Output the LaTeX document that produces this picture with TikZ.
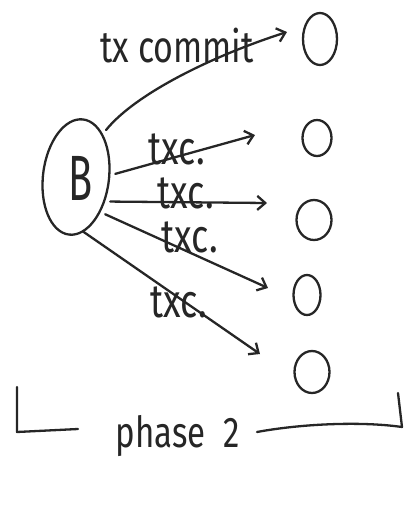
\documentclass[tikz,border=0pt]{standalone}
\usepackage{fontspec}
\setmainfont{Fira Sans}
\usetikzlibrary{shapes.geometric,arrows.meta}
\definecolor{ink}{HTML}{262626}
\begin{document}
\begin{tikzpicture}[x=1pt,y=-1pt,
  pen/.style={draw=ink,line width=2.3pt,line cap=round,line join=round},
  msg/.style={pen,-{Straight Barb[length=8pt,width=14pt,line width=2.3pt]},shorten <=5pt},
  peer/.style={ellipse,pen,inner sep=0pt},
  hand/.style={text=ink,inner sep=0pt,anchor=base,yscale=1.3,font=\fontsize{34}{36}\selectfont}]
\useasboundingbox (0,0) rectangle (409,507);

% coordinator
\node[ellipse,pen,minimum width=66pt,minimum height=116pt,rotate=-7] (B) at (76,177) {};
\node[hand,yscale=1/1.3,font=\fontsize{64}{64}\selectfont,xscale=0.62] (Bname) at (81,200) {B};

% participants
\node[peer,minimum width=34pt,minimum height=52pt] (p1) at (320,39) {};
\node[peer,minimum width=29pt,minimum height=36pt] (p2) at (317,138) {};
\node[peer,minimum width=35pt,minimum height=40pt] (p3) at (314,220) {};
\node[peer,minimum width=27pt,minimum height=40pt] (p4) at (307,295) {};
\node[peer,minimum width=35pt,minimum height=42pt] (p5) at (312,372) {};

% arrow tips
\coordinate (t1) at (287,32);
\coordinate (t2) at (255,135);
\coordinate (t3) at (267,203);
\coordinate (t4) at (268,288);
\coordinate (t5) at (260,354);

% messages
\draw[msg] (B.65) .. controls (135,94) and (212,56) .. (t1);
\draw[msg] (B.10) -- (t2);
\draw[msg] (B.-33) -- (t3);
\draw[msg] (B.-48) -- (t4);
\draw[msg,shorten <=0pt] (B.-75) -- (t5);

\node[hand] (l1) at (177,62) {tx commit};
\node[hand,font=\fontsize{36}{38}\selectfont] (l2) at (177,164) {txc.};
\node[hand,font=\fontsize{36}{38}\selectfont] (l3) at (186,208) {txc.};
\node[hand,font=\fontsize{36}{38}\selectfont] (l4) at (190,252) {txc.};
\node[hand,font=\fontsize{36}{38}\selectfont] (l5) at (179,317) {txc.};

% phase bracket
\node[hand,font=\fontsize{33}{35}\selectfont] (phase) at (178,447) {phase\hspace{0.55em}2};
\draw[pen] (17,387) -- (17,432) -- (78,429);
\draw[pen] (257,432) .. controls (300,424) and (360,421) .. (402,427) -- (398,393);
\end{tikzpicture}
\end{document}
